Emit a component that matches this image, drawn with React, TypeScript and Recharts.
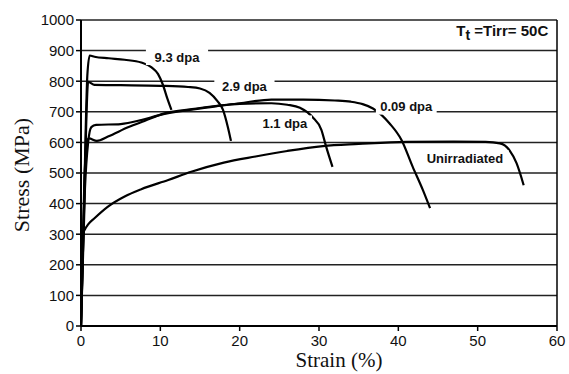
import React from 'react'
import {
  LineChart,
  Line,
  XAxis,
  YAxis,
  CartesianGrid,
  ReferenceLine,
  ReferenceDot,
  Label,
} from 'recharts'

// strain (%) / stress (MPa)
const strainTicks = [0, 10, 20, 30, 40, 50, 60]
const stressTicks = [0, 100, 200, 300, 400, 500, 600, 700, 800, 900, 1000]

const dpa93 = [
  [0, 0], [0.3, 300], [0.6, 650], [0.8, 820], [1.1, 884], [1.7, 880],
  [3.5, 875], [5.5, 870], [7.6, 861], [8.9, 845], [9.7, 824], [10.3, 790],
  [10.9, 742], [11.4, 706],
]
const dpa29 = [
  [0, 0], [0.4, 400], [0.7, 700], [0.9, 798], [1.7, 788], [5, 787],
  [10, 785], [13.5, 781], [15, 776], [16.2, 762], [17.2, 735], [17.9, 706],
  [18.5, 651], [18.9, 605],
]
const dpa11 = [
  [0, 0], [0.5, 450], [0.9, 600], [1.3, 650], [1.9, 657], [5, 660],
  [7.6, 673], [10, 690], [13.7, 706], [17, 718], [20, 726], [24, 728],
  [26, 723], [27.6, 713], [29.2, 682], [30.3, 641], [30.9, 586], [31.7, 520],
]
const dpa009 = [
  [0, 0], [0.4, 450], [0.7, 600], [1, 613], [2, 605], [3.4, 619],
  [6, 650], [8, 670], [10.5, 695], [13.7, 708], [20, 728], [24, 740],
  [28, 740], [32, 737], [34, 733], [35.5, 725], [36.8, 711], [38.9, 662],
  [40.4, 608], [41.8, 521], [43.1, 444], [44, 385],
]
const unirradiated = [
  [0, 0], [0.1, 150], [0.25, 300], [0.5, 316], [0.9, 332], [1.7, 352],
  [3.4, 390], [5.5, 423], [7.6, 447], [11, 477], [13.9, 504], [18, 534],
  [22, 554], [26, 572], [30.5, 588], [35, 595], [41, 602], [47, 603],
  [51, 602], [52.8, 597], [54, 575], [54.9, 532], [55.8, 460],
]

const curves = [dpa93, dpa29, dpa11, dpa009, unirradiated]

// annotation anchors (strain, stress)
const curveLabels = [
  { text: '9.3 dpa', x: 12.1, y: 879, pad: 8 },
  { text: '2.9 dpa', x: 20.6, y: 782, pad: 7 },
  { text: '0.09 dpa', x: 41.0, y: 717, pad: 4 },
  { text: '1.1 dpa', x: 25.7, y: 662, pad: 4 },
  { text: 'Unirradiated', x: 48.4, y: 549, pad: 4 },
]

const toRows = (pts: number[][]) => pts.map(([x, y]) => ({ x, y }))

const sans = '"Liberation Sans", Arial, sans-serif'
const serif = '"Liberation Serif", "Times New Roman", serif'

function boxedText(text: string, pad: number) {
  return (props: any) => {
    const { cx, cy } = props
    const w = text.length * 6.6
    return (
      <g>
        <rect x={cx - w / 2 - pad} y={cy - 8} width={w + pad * 2} height={16} fill="#fff" />
        <text
          x={cx}
          y={cy}
          dy="0.35em"
          textAnchor="middle"
          fontFamily={sans}
          fontWeight="bold"
          fontSize={13}
          fill="#111"
        >
          {text}
        </text>
      </g>
    )
  }
}

function tempLabel(props: any) {
  const { cx, cy } = props
  return (
    <text x={cx} y={cy} dy="0.3em" textAnchor="middle" fontFamily={sans} fontWeight="bold" fontSize={15} fill="#111">
      T
      <tspan fontSize={14} dy={4}>t</tspan>
      <tspan dy={-4}> =Tirr= 50C</tspan>
    </text>
  )
}

export default function App() {
  return (
    <div style={{ position: 'absolute', left: 0, top: 0, background: '#fff' }}>
      <LineChart width={569} height={374} margin={{ top: 20, right: 12, left: 0, bottom: 18 }}>
        <CartesianGrid horizontal vertical={false} stroke="#222" strokeWidth={1.5} />
        <XAxis
          type="number"
          dataKey="x"
          domain={[0, 60]}
          ticks={strainTicks}
          interval={0}
          height={30}
          tickSize={5}
          tickMargin={4}
          tick={{ fontSize: 15, fill: '#111', fontFamily: sans }}
          axisLine={{ stroke: '#000', strokeWidth: 2 }}
          tickLine={{ stroke: '#000', strokeWidth: 1.5 }}
          allowDataOverflow
        >
          <Label
            content={({ viewBox }: any) => (
              <text
                x={viewBox.x + viewBox.width / 2 + 20}
                y={367}
                textAnchor="middle"
                fontFamily={serif}
                fontSize={21}
                fill="#111"
              >
                Strain (%)
              </text>
            )}
          />
        </XAxis>
        <YAxis
          type="number"
          domain={[0, 1000]}
          ticks={stressTicks}
          interval={0}
          width={81}
          tickSize={5}
          tickMargin={2}
          tick={{ fontSize: 15, fill: '#111', fontFamily: sans }}
          axisLine={{ stroke: '#000', strokeWidth: 2 }}
          tickLine={{ stroke: '#000', strokeWidth: 1.5 }}
          allowDataOverflow
        >
          <Label
            content={({ viewBox }: any) => {
              const cx = 21
              const cy = viewBox.y + viewBox.height / 2 + 2
              return (
                <text
                  x={cx}
                  y={cy}
                  dy="0.35em"
                  textAnchor="middle"
                  transform={`rotate(-90 ${cx} ${cy})`}
                  fontFamily={serif}
                  fontSize={22}
                  fill="#111"
                >
                  Stress (MPa)
                </text>
              )
            }}
          />
        </YAxis>
        <ReferenceLine x={60} stroke="#000" strokeWidth={1.5} />
        {curveLabels.map((l) => (
          <ReferenceDot key={l.text} x={l.x} y={l.y} r={0} shape={boxedText(l.text, l.pad)} />
        ))}
        <ReferenceDot x={53.1} y={962} r={0} shape={tempLabel} />
        {curves.map((c, i) => (
          <Line
            key={i}
            data={toRows(c)}
            dataKey="y"
            type="monotone"
            stroke="#000"
            strokeWidth={2.2}
            dot={false}
            activeDot={false}
            isAnimationActive={false}
          />
        ))}
      </LineChart>
    </div>
  )
}
